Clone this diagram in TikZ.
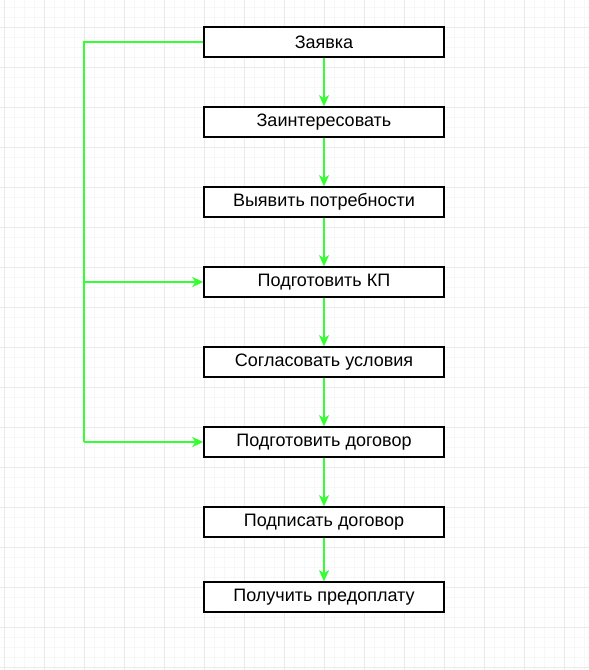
\documentclass[tikz,border=0pt]{standalone}
\usepackage{fontspec}
\setmainfont{Liberation Sans}
\usetikzlibrary{arrows.meta}
\definecolor{flowgreen}{HTML}{33FF33}
\definecolor{minorgrid}{HTML}{F7F7F7}
\definecolor{majorgrid}{HTML}{EAEAEA}
\begin{document}
\begin{tikzpicture}[x=1pt,y=-1pt,
  stepbox/.style={draw=black,line width=1.5pt,fill=white,minimum width=240pt,minimum height=30pt,inner sep=0pt,font=\fontsize{18}{20}\selectfont},
  flow/.style={draw=flowgreen,line width=2.2pt,-{Stealth[length=11pt,width=10pt,inset=3pt]}},
  flowline/.style={draw=flowgreen,line width=2.2pt}]
\useasboundingbox (0,0) rectangle (589,670);
\foreach \i in {0,...,58} {\draw[minorgrid,line width=1pt] (4+10*\i,0) -- (4+10*\i,670);}
\foreach \i in {0,...,66} {\draw[minorgrid,line width=1pt] (0,7+10*\i) -- (589,7+10*\i);}
\foreach \i in {0,...,14} {\draw[majorgrid,line width=1pt] (4+40*\i,0) -- (4+40*\i,670);}
\foreach \i in {0,...,16} {\draw[majorgrid,line width=1pt] (0,27+40*\i) -- (589,27+40*\i);}
\node[stepbox] (n1) at (324,42) {Заявка};
\node[stepbox] (n2) at (324,122) {Заинтересовать};
\node[stepbox] (n3) at (324,202) {Выявить потребности};
\node[stepbox] (n4) at (324,282) {Подготовить КП};
\node[stepbox] (n5) at (324,362) {Согласовать условия};
\node[stepbox] (n6) at (324,442) {Подготовить договор};
\node[stepbox] (n7) at (324,522) {Подписать договор};
\node[stepbox] (n8) at (324,597) {Получить предоплату};
\foreach \a/\b in {n1/n2,n2/n3,n3/n4,n4/n5,n5/n6,n6/n7,n7/n8} {\draw[flow] (\a.south) -- (\b.north);}
\coordinate (c1) at (84,42);
\coordinate (c2) at (84,282);
\coordinate (c3) at (84,442);
\draw[flowline] (n1.west) -- (c1) -- (c3);
\draw[flow] (c2) -- (n4.west);
\draw[flow] (c3) -- (n6.west);
\end{tikzpicture}
\end{document}
